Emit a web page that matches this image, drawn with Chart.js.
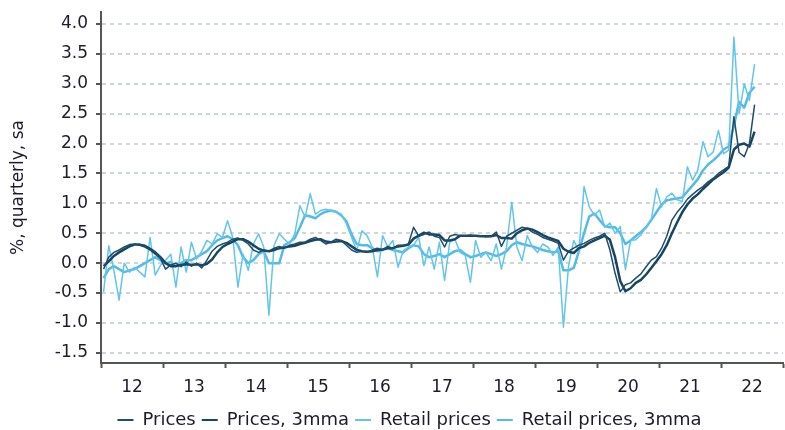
<!DOCTYPE html>
<html>
<head>
<meta charset="utf-8">
<script src="https://cdn.jsdelivr.net/npm/chart.js@4.4.1/dist/chart.umd.min.js"></script>
<style>
  html, body { margin: 0; padding: 0; background: #fff; }
</style>
</head>
<body>
<canvas id="my-chart" width="785" height="430"></canvas>
<script>
//Data - monthly, Jan 2012 to Jul 2022
let startYear = 2012;
let monthCount = 127;

let yearTicks = [2012, 2013, 2014, 2015, 2016, 2017, 2018, 2019, 2020, 2021, 2022, 2023];
let yearLabels = ['12', '13', '14', '15', '16', '17', '18', '19', '20', '21', '22', ''];
let yTicks = [-1.5, -1.0, -0.5, 0.0, 0.5, 1.0, 1.5, 2.0, 2.5, 3.0, 3.5, 4.0];

let seriesNames = ['Prices', 'Prices, 3mma', 'Retail prices', 'Retail prices, 3mma'];

let prices = [
  -0.10, 0.10, 0.18, 0.22, 0.27, 0.31, 0.32, 0.30, 0.27, 0.22, 0.15, 0.08,
  -0.10, -0.03, 0.00, -0.06, 0.02, -0.05, 0.00, -0.08, 0.05, 0.20, 0.28, 0.32,
  0.35, 0.40, 0.42, 0.38, 0.32, 0.22, 0.18, 0.22, 0.20, 0.25, 0.28, 0.25,
  0.30, 0.32, 0.35, 0.35, 0.40, 0.43, 0.38, 0.32, 0.35, 0.40, 0.38, 0.30,
  0.22, 0.18, 0.20, 0.18, 0.22, 0.25, 0.22, 0.28, 0.25, 0.30, 0.30, 0.32,
  0.60, 0.45, 0.48, 0.52, 0.45, 0.43, 0.27, 0.45, 0.48, 0.46, 0.45, 0.47,
  0.45, 0.46, 0.44, 0.45, 0.52, 0.28, 0.45, 0.50, 0.55, 0.60, 0.58, 0.52,
  0.48, 0.43, 0.40, 0.37, 0.33, 0.05, 0.20, 0.25, 0.30, 0.33, 0.38, 0.42,
  0.45, 0.50, 0.22, -0.17, -0.48, -0.36, -0.33, -0.25, -0.18, -0.06, 0.05, 0.11,
  0.25, 0.45, 0.72, 0.85, 0.95, 1.07, 1.15, 1.22, 1.28, 1.36, 1.42, 1.50,
  1.56, 1.62, 2.45, 1.85, 1.78, 2.00, 2.65
];

let prices3mma = [
  -0.05, 0.03, 0.12, 0.18, 0.23, 0.28, 0.31, 0.31, 0.29, 0.24, 0.18, 0.10,
  0.00, -0.05, -0.05, -0.03, -0.02, -0.03, -0.02, -0.04, -0.01, 0.06, 0.18, 0.27,
  0.32, 0.36, 0.40, 0.40, 0.36, 0.30, 0.24, 0.21, 0.20, 0.22, 0.25, 0.26,
  0.28, 0.29, 0.32, 0.34, 0.37, 0.39, 0.40, 0.36, 0.35, 0.36, 0.37, 0.34,
  0.28, 0.22, 0.20, 0.19, 0.20, 0.22, 0.23, 0.25, 0.25, 0.28, 0.29, 0.31,
  0.41, 0.46, 0.51, 0.48, 0.48, 0.47, 0.38, 0.38, 0.40, 0.46, 0.46, 0.46,
  0.46, 0.45, 0.45, 0.45, 0.47, 0.42, 0.42, 0.41, 0.50, 0.55, 0.58, 0.56,
  0.52, 0.47, 0.43, 0.40, 0.37, 0.24, 0.19, 0.17, 0.25, 0.28, 0.34, 0.38,
  0.42, 0.46, 0.39, 0.10, -0.30, -0.47, -0.42, -0.33, -0.28, -0.19, -0.08, 0.03,
  0.15, 0.30, 0.50, 0.68, 0.85, 0.98, 1.08, 1.15, 1.24, 1.32, 1.40, 1.46,
  1.52, 1.60, 1.90, 1.98, 2.00, 1.95, 2.20
];

let retail = [
  -0.48, 0.29, -0.12, -0.62, 0.00, -0.15, -0.07, -0.15, -0.23, 0.43, -0.20, -0.04,
  0.05, 0.15, -0.40, 0.27, -0.15, 0.35, 0.07, 0.20, 0.38, 0.32, 0.49, 0.43,
  0.71, 0.43, -0.40, 0.15, -0.12, 0.32, 0.49, 0.27, -0.87, 0.30, 0.49, 0.40,
  0.32, 0.49, 0.96, 0.77, 1.16, 0.82, 0.88, 0.90, 0.88, 0.85, 0.82, 0.66,
  0.43, 0.21, 0.54, 0.46, 0.27, -0.23, 0.46, 0.27, 0.38, -0.07, 0.21, 0.27,
  0.30, 0.43, -0.04, 0.27, -0.10, 0.35, -0.29, 0.35, 0.40, 0.18, 0.13, -0.32,
  0.38, 0.10, 0.18, 0.04, 0.32, -0.10, 0.27, 1.02, 0.27, 0.04, 0.46, 0.27,
  0.18, 0.32, 0.27, 0.13, 0.27, -1.07, -0.04, 0.38, 0.20, 1.28, 0.94, 0.80,
  0.89, 0.60, 0.67, 0.50, 0.61, -0.11, 0.38, 0.39, 0.47, 0.61, 0.72, 1.25,
  0.94, 1.11, 1.17, 1.06, 1.03, 1.61, 1.39, 1.55, 2.03, 1.78, 1.86, 2.22,
  1.83, 1.89, 3.78, 2.50, 3.00, 2.72, 3.33
];

let retail3mma = [
  -0.25, -0.10, -0.05, -0.10, -0.15, -0.12, -0.10, -0.05, 0.00, 0.05, 0.10, 0.05,
  0.00, 0.02, -0.05, 0.00, 0.05, 0.05, 0.10, 0.15, 0.20, 0.30, 0.38, 0.42,
  0.45, 0.40, 0.30, 0.10, 0.00, 0.05, 0.15, 0.20, 0.00, 0.00, 0.00, 0.30,
  0.35, 0.42, 0.60, 0.80, 0.78, 0.75, 0.82, 0.86, 0.88, 0.86, 0.80, 0.70,
  0.48, 0.32, 0.30, 0.30, 0.25, 0.20, 0.22, 0.25, 0.22, 0.20, 0.18, 0.25,
  0.30, 0.28, 0.15, 0.10, 0.12, 0.15, 0.10, 0.15, 0.20, 0.22, 0.15, 0.10,
  0.12, 0.15, 0.18, 0.15, 0.12, 0.15, 0.20, 0.30, 0.35, 0.32, 0.30, 0.28,
  0.25, 0.22, 0.20, 0.18, 0.20, -0.12, -0.12, -0.08, 0.20, 0.50, 0.78, 0.83,
  0.72, 0.62, 0.60, 0.60, 0.50, 0.32, 0.38, 0.45, 0.52, 0.60, 0.72, 0.85,
  0.98, 1.05, 1.07, 1.08, 1.10, 1.20, 1.30, 1.40, 1.55, 1.65, 1.72, 1.80,
  1.90, 1.95, 2.30, 2.70, 2.60, 2.85, 2.95
];

//Colours and fonts
let textColor = '#1e1b2b';
let axisColor = '#555555';
let gridColor = '#ced6dc';
let fontFamily = "'DejaVu Sans', Verdana, sans-serif";
let legendShift = 18;

//x position of each month (middle of month, in years)
let monthPositions = [];
for (let i = 0; i < monthCount; i++) {
  monthPositions.push(startYear + (i + 0.5) / 12);
}

function makeLine(label, data, color, width) {
  return {
    label: label,
    data: data,
    borderColor: color,
    backgroundColor: color,
    borderWidth: width,
    pointRadius: 0,
    tension: 0,
    fill: false,
    borderJoinStyle: 'round'
  };
}

//nudge the legend a little to the right, like the original
let legendNudge = {
  id: 'legendNudge',
  afterLayout: function (chart) {
    chart.legend.left += legendShift;
    chart.legend.right += legendShift;
  }
};

let ctx = document.getElementById('my-chart');

let chartObject = {
  type: 'line',
  data: {
    labels: monthPositions,
    datasets: [
      makeLine(seriesNames[0], prices, '#1f4d6b', 1.5),
      makeLine(seriesNames[1], prices3mma, '#174660', 2.5),
      makeLine(seriesNames[2], retail, '#63c5ec', 1.5),
      makeLine(seriesNames[3], retail3mma, '#52bbe6', 2.5)
    ]
  },
  options: {
    responsive: false,
    animation: false,
    layout: { padding: { top: 12, right: 2, bottom: -9, left: 0 } },
    plugins: {
      tooltip: { enabled: false },
      legend: {
        position: 'bottom',
        labels: {
          boxWidth: 16,
          boxHeight: 2,
          padding: 6,
          color: textColor,
          font: { family: fontFamily, size: 18 },
          generateLabels: function (chart) {
            let items = Chart.defaults.plugins.legend.labels.generateLabels(chart);
            items.forEach(function (item) {
              item.fillStyle = item.strokeStyle;
              item.lineWidth = 0;
            });
            return items;
          }
        }
      }
    },
    scales: {
      x: {
        type: 'linear',
        min: 2012,
        max: 2023,
        afterBuildTicks: function (scale) {
          scale.ticks = yearTicks.map(function (v) { return { value: v }; });
        },
        afterFit: function (scale) {
          scale.height = 42;
          scale.paddingLeft = 0;
          scale.paddingRight = 0;
        },
        ticks: {
          callback: function (value, index) { return yearLabels[index]; },
          labelOffset: 31,
          autoSkip: false,
          maxRotation: 0,
          padding: 9,
          color: textColor,
          font: { family: fontFamily, size: 17 }
        },
        grid: { drawOnChartArea: false, tickLength: 5, tickColor: axisColor, tickWidth: 2 },
        border: { color: axisColor, width: 2 }
      },
      y: {
        min: -1.67,
        max: 4.2,
        afterBuildTicks: function (scale) {
          scale.ticks = yTicks.map(function (v) { return { value: v }; });
        },
        afterFit: function (scale) {
          scale.width = 101;
          scale.paddingTop = 0;
          scale.paddingBottom = 0;
        },
        ticks: {
          callback: function (value) { return value.toFixed(1); },
          padding: 8,
          color: textColor,
          font: { family: fontFamily, size: 17 }
        },
        grid: { color: gridColor, lineWidth: 2, tickColor: axisColor, tickLength: 5, tickWidth: 2 },
        border: { color: axisColor, width: 2, dash: [4, 4] },
        title: {
          display: true,
          text: '%, quarterly, sa',
          color: textColor,
          font: { family: fontFamily, size: 17 },
          padding: { top: 8, bottom: 0 }
        }
      }
    }
  },
  plugins: [legendNudge]
};

const myChart = new Chart(ctx, chartObject); //eslint-disable-line
</script>
</body>
</html>
